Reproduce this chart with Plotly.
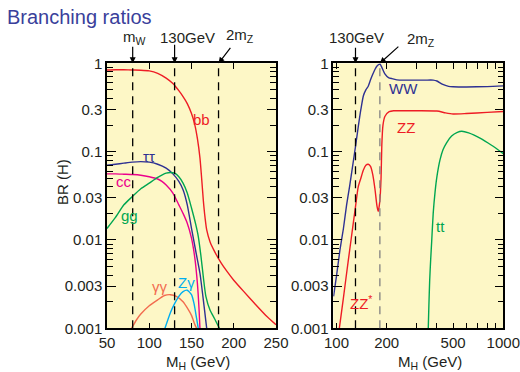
import math
import plotly.graph_objects as go

W, H = 520, 372

# ---------------- data: left panel (M_H in GeV, BR) ----------------
m_bb = [50, 60, 70, 80, 90, 100, 110, 120, 128, 135, 140, 145, 150, 154, 157, 160, 162, 164, 166, 168, 172, 178, 185, 192, 200, 212, 225, 238, 250]
br_bb = [0.84, 0.845, 0.845, 0.84, 0.835, 0.82, 0.77, 0.68, 0.59, 0.49, 0.42, 0.35, 0.27, 0.2, 0.14, 0.085, 0.05, 0.028, 0.018, 0.013, 0.0095, 0.0072, 0.0055, 0.0044, 0.0035, 0.0026, 0.0019, 0.0014, 0.0011]

m_tautau = [50, 60, 70, 80, 90, 100, 110, 120, 128, 135, 140, 145, 150, 155, 160, 164, 167, 168]
br_tautau = [0.07, 0.072, 0.074, 0.076, 0.077, 0.076, 0.072, 0.065, 0.056, 0.046, 0.037, 0.025, 0.0135, 0.0075, 0.0042, 0.0021, 0.0012, 0.001]

m_cc = [50, 60, 70, 80, 90, 100, 110, 115, 120, 128, 135, 140, 145, 150, 154, 157, 159, 160]
br_cc = [0.056, 0.056, 0.0555, 0.055, 0.054, 0.052, 0.049, 0.046, 0.042, 0.034, 0.025, 0.02, 0.0155, 0.0105, 0.0062, 0.0032, 0.0016, 0.001]

m_gg = [50, 60, 70, 80, 90, 100, 110, 120, 125, 130, 135, 140, 145, 150, 155, 158, 161, 164, 167, 172, 177, 183]
br_gg = [0.0135, 0.018, 0.025, 0.031, 0.038, 0.044, 0.051, 0.057, 0.058, 0.057, 0.052, 0.044, 0.034, 0.023, 0.015, 0.011, 0.0068, 0.0038, 0.0023, 0.0016, 0.0013, 0.001]

m_gamgam = [79, 85, 90, 100, 110, 118, 125, 132, 140, 145, 150, 154, 156]
br_gamgam = [0.001, 0.00125, 0.00145, 0.0018, 0.0021, 0.00235, 0.0024, 0.0023, 0.002, 0.0017, 0.0014, 0.0011, 0.001]

m_zgam = [118.6, 125, 130, 135, 140, 145, 150, 153, 156, 158]
br_zgam = [0.001, 0.0015, 0.0019, 0.0023, 0.0026, 0.0027, 0.0024, 0.0019, 0.0013, 0.001]

# ---------------- data: right panel ----------------
m_ww = [96, 100, 105, 110, 115, 120, 125, 130, 135, 140, 145, 150, 155, 160, 165, 170, 175, 180, 183, 188, 195, 205, 215, 230, 260, 300, 340, 380, 400, 430, 470, 500, 600, 800, 1000]
br_ww = [0.0023, 0.0039, 0.0078, 0.0134, 0.025, 0.041, 0.069, 0.114, 0.19, 0.3, 0.43, 0.5, 0.55, 0.65, 0.75, 0.85, 0.93, 0.97, 0.975, 0.88, 0.76, 0.69, 0.67, 0.65, 0.645, 0.645, 0.645, 0.645, 0.63, 0.58, 0.548, 0.543, 0.54, 0.545, 0.555]

m_zz = [104, 110, 115, 120, 125, 130, 135, 140, 145, 150, 155, 160, 165, 170, 175, 178, 182, 185, 187, 190, 195, 207, 220, 250, 300, 400, 450, 500, 600, 800, 1000]
br_zz = [0.001, 0.0022, 0.0042, 0.0077, 0.0137, 0.0237, 0.04, 0.05, 0.062, 0.07, 0.072, 0.068, 0.055, 0.038, 0.024, 0.021, 0.028, 0.05, 0.12, 0.2, 0.25, 0.283, 0.29, 0.29, 0.29, 0.288, 0.275, 0.267, 0.27, 0.278, 0.285]

m_tt = [355, 358, 362, 367, 372, 380, 390, 400, 417, 435, 457, 490, 530, 563, 620, 725, 850, 1000]
br_tt = [0.001, 0.0018, 0.0035, 0.006, 0.0095, 0.02, 0.035, 0.052, 0.08, 0.105, 0.126, 0.15, 0.165, 0.17, 0.163, 0.142, 0.118, 0.095]

# reference masses
m_w = 80.4
m_130 = 130
m_2z = 182

# tick labels
y_tickvals = [0.001, 0.003, 0.01, 0.03, 0.1, 0.3, 1]
y_ticktext = ["0.001", "0.003", "0.01", "0.03", "0.1", "0.3", "1"]
y_minor = [f * 10 ** e for e in (-3, -2, -1) for f in (2, 4, 5, 6, 7, 8, 9)]
x1_tickvals = [50, 100, 150, 200, 250]
x2_tickvals = [100, 200, 500, 1000]
x2_ticktext = ["100", "200", "500", "1000"]
x2_minor = [300, 400, 600, 700, 800, 900]

RED = "#ee1c25"
BLUE = "#2e3192"
MAGENTA = "#ec008c"
GREEN = "#00a651"
ORANGE = "#f26c4f"
CYAN = "#00aeef"
BG = "#fdf7c6"
FONT = "Liberation Sans, Arial, sans-serif"
TXT = "#231f20"

fig = go.Figure()

def add_line(x, y, color, xa, ya):
    fig.add_trace(go.Scatter(x=x, y=y, mode="lines", xaxis=xa, yaxis=ya,
                             line=dict(color=color, width=1.4, shape="spline", smoothing=0.6),
                             showlegend=False, hoverinfo="skip"))

add_line(m_bb, br_bb, RED, "x", "y")
add_line(m_tautau, br_tautau, BLUE, "x", "y")
add_line(m_cc, br_cc, MAGENTA, "x", "y")
add_line(m_gg, br_gg, GREEN, "x", "y")
add_line(m_gamgam, br_gamgam, ORANGE, "x", "y")
add_line(m_zgam, br_zgam, CYAN, "x", "y")
add_line(m_ww, br_ww, BLUE, "x2", "y2")
add_line(m_zz, br_zz, RED, "x2", "y2")
add_line(m_tt, br_tt, GREEN, "x2", "y2")

# frame pixel geometry
LX0, LX1 = 107, 276
RX0, RX1 = 333.3, 503.3
YT, YB = 63.3, 328.3

common_y = dict(type="log", range=[-3, 0], tickmode="array", tickvals=y_tickvals, ticktext=y_ticktext,
                ticks="inside", ticklen=9, tickwidth=1.2, tickcolor="black",
                minor=dict(tickmode="array", tickvals=y_minor, ticks="inside", ticklen=6, tickwidth=1.2, tickcolor="black"),
                showline=True, linecolor="black", linewidth=1.5, mirror="ticks",
                showgrid=False, zeroline=False, automargin=False,
                tickfont=dict(size=15, color=TXT, family=FONT),
                domain=[1 - YB / H, 1 - YT / H])

fig.update_layout(
    width=W, height=H, margin=dict(l=0, r=0, t=0, b=0, pad=0, autoexpand=False),
    paper_bgcolor="white", plot_bgcolor=BG,
    font=dict(family=FONT, size=15, color=TXT),
    xaxis=dict(domain=[LX0 / W, LX1 / W], range=[50, 250], anchor="y",
               tickmode="array", tickvals=x1_tickvals,
               ticks="inside", ticklen=6, tickwidth=1.2, tickcolor="black",
               showline=True, linecolor="black", linewidth=1.5, mirror="ticks",
               showgrid=False, zeroline=False, automargin=False,
               tickfont=dict(size=15, color=TXT, family=FONT)),
    yaxis=dict(anchor="x", **common_y),
    xaxis2=dict(domain=[RX0 / W, RX1 / W], type="log", range=[math.log10(95.7), 3], anchor="y2",
                tickmode="array", tickvals=x2_tickvals, ticktext=x2_ticktext,
                ticks="inside", ticklen=6, tickwidth=1.2, tickcolor="black",
                minor=dict(tickmode="array", tickvals=x2_minor, ticks="inside", ticklen=6, tickwidth=1.2, tickcolor="black"),
                showline=True, linecolor="black", linewidth=1.5, mirror="ticks",
                showgrid=False, zeroline=False, automargin=False,
                tickfont=dict(size=15, color=TXT, family=FONT)),
    yaxis2=dict(anchor="x2", **common_y),
)

# dashed reference lines
for xv in (m_w, m_130, m_2z):
    fig.add_shape(type="line", xref="x", yref="y domain", x0=xv, x1=xv, y0=0, y1=1,
                  line=dict(color="black", width=1.3, dash="8px,6px"), layer="above")
fig.add_shape(type="line", xref="x2", yref="y2 domain", x0=m_130, x1=m_130, y0=0, y1=1,
              line=dict(color="black", width=1.3, dash="8px,6px"), layer="above")
fig.add_shape(type="line", xref="x2", yref="y2 domain", x0=m_2z, x1=m_2z, y0=0, y1=1,
              line=dict(color="#808080", width=1.3, dash="8px,6px"), layer="above")

def ptext(px, py, text, size=15, color=TXT, xanchor="center", angle=0):
    fig.add_annotation(xref="paper", yref="paper", x=px / W, y=1 - py / H, text=text, showarrow=False,
                       xanchor=xanchor, yanchor="middle", textangle=angle,
                       font=dict(size=size, color=color, family=FONT))

def arrow(xref, yref, xv, ax, ay):
    fig.add_annotation(xref=xref, yref=yref, x=xv, y=1, text="", showarrow=True,
                       ax=ax, ay=ay, arrowhead=2, arrowsize=1, arrowwidth=1.2, arrowcolor="black")

# title
ptext(5, 17, "Branching ratios", size=20, color="#3a3f9b", xanchor="left")

# annotations above the panels
ptext(134.7, 37, "m<sub>W</sub>")
arrow("x", "y domain", m_w, 0, -18)
ptext(187, 37, "130GeV")
arrow("x", "y domain", m_130, 0, -20)
ptext(240, 35, "2m<sub>Z</sub>")
arrow("x", "y domain", m_2z, 13, -17)
ptext(356, 37, "130GeV")
arrow("x2", "y2 domain", math.log10(m_130), 0, -17)
ptext(421, 39, "2m<sub>Z</sub>")
arrow("x2", "y2 domain", math.log10(m_2z), 20, -18)

# axis titles
ptext(62, 182, "BR (H)", angle=-90)
ptext(198, 362, "M<sub>H</sub> (GeV)")
ptext(430, 362, "M<sub>H</sub> (GeV)")

# curve labels (M, BR)
left_labels = [("bb", 162.4, 0.234, RED), ("ττ", 99.7, 0.089, BLUE), ("cc", 70.1, 0.0465, MAGENTA),
               ("gg", 76.6, 0.0191, GREEN), ("γγ", 112.7, 0.0030, ORANGE), ("Zγ", 143.5, 0.00334, CYAN)]
right_labels = [("WW", 251.5, 0.525, BLUE), ("ZZ", 261, 0.1875, RED), ("ZZ<sup>*</sup>", 139.7, 0.00198, RED),
                ("tt", 417.4, 0.0142, GREEN)]
for t, mx, by, c in left_labels:
    fig.add_annotation(xref="x", yref="y", x=mx, y=math.log10(by), text=t, showarrow=False,
                       font=dict(size=15, color=c, family=FONT))
for t, mx, by, c in right_labels:
    fig.add_annotation(xref="x2", yref="y2", x=math.log10(mx), y=math.log10(by), text=t, showarrow=False,
                       font=dict(size=15, color=c, family=FONT))

fig.write_html("out.html")
